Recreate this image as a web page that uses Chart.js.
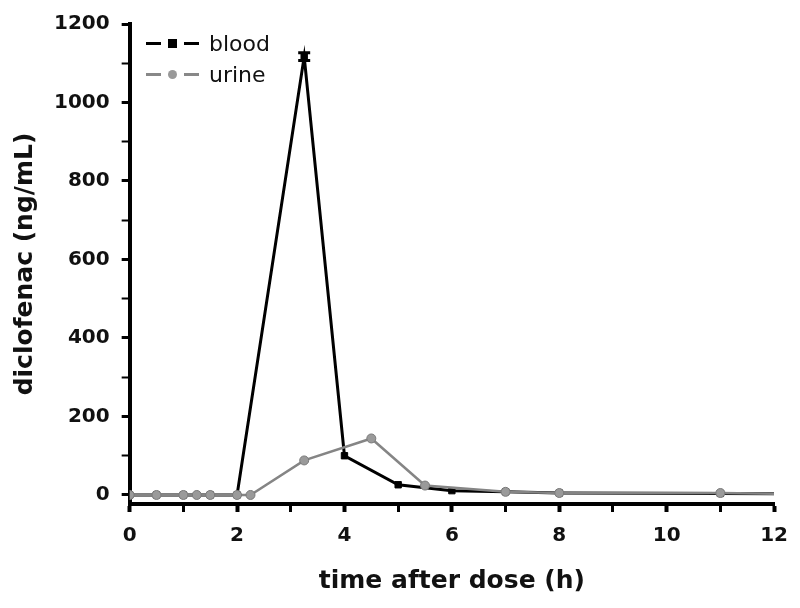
<!DOCTYPE html>
<html lang="en">
<head>
  <meta charset="UTF-8"/>
  <title>Diclofenac</title>
  <script src="https://cdn.jsdelivr.net/npm/chart.js"></script>
  <style>
    html, body { margin: 0; padding: 0; background: #fff; }
    .wrap { position: relative; width: 800px; height: 608px; }
    /* legend drawn in HTML, top-left inside the plot */
    .legend { position: absolute; left: 146px; top: 28px; font-family: "DejaVu Sans", sans-serif; font-size: 22px; line-height: 31px; color: #111; }
    .row { display: flex; align-items: center; height: 31px; }
    .seg { display: inline-block; width: 15px; height: 3px; }
    .mk { display: inline-block; width: 9px; height: 9px; margin: 0 7px; }
    .lbl { margin-left: 10px; }
  </style>
</head>
<body>
  <div class="wrap">
    <canvas id="chart" width="800" height="608"></canvas>
    <div class="legend">
      <div class="row"><span class="seg" style="background:#000"></span><span class="mk" style="background:#000"></span><span class="seg" style="background:#000"></span><span class="lbl">blood</span></div>
      <div class="row"><span class="seg" style="background:#888"></span><span class="mk" style="background:#999;border-radius:50%"></span><span class="seg" style="background:#888"></span><span class="lbl">urine</span></div>
    </div>
  </div>

  <script>
    // Data
    const bloodTime  = [0, 0.5, 1, 1.5, 2, 3.25, 4, 5, 6, 7, 8, 11, 12];
    const bloodConc  = [0, 0, 0, 0, 0, 1117, 100, 26, 11, 8, 5, 4, 3];
    const bloodErr   = [0, 0, 0, 0, 0, 10, 0, 0, 0, 0, 0, 0, 0];
    const urineTime  = [0, 0.5, 1, 1.25, 1.5, 2, 2.25, 3.25, 4.5, 5.5, 7, 8, 11, 12];
    const urineConc  = [0, 0, 0, 0, 0, 0, 0, 88, 144, 24, 8, 5, 5, 3];
    const xTicks = [0, 1, 2, 3, 4, 5, 6, 7, 8, 9, 10, 11, 12];
    const yTicks = [0, 100, 200, 300, 400, 500, 600, 700, 800, 900, 1000, 1100, 1200];

    const toPts = (xs, ys) => xs.map((x, i) => ({ x: x, y: ys[i] }));
    const hideEnd = ctx => (ctx.raw && ctx.raw.x === 12 ? 0 : 4.5);

    // error bar on blood series
    const errorBars = {
      id: 'errorBars',
      afterDatasetsDraw(chart) {
        const { ctx, scales: { x, y } } = chart;
        ctx.save();
        ctx.strokeStyle = '#000';
        ctx.lineWidth = 3;
        bloodTime.forEach((t, i) => {
          const e = bloodErr[i];
          if (!e) return;
          const px = x.getPixelForValue(t);
          const top = y.getPixelForValue(bloodConc[i] + e);
          const bot = y.getPixelForValue(bloodConc[i] - e);
          ctx.beginPath();
          ctx.moveTo(px, top); ctx.lineTo(px, bot);
          ctx.moveTo(px - 6, top); ctx.lineTo(px + 6, top);
          ctx.moveTo(px - 6, bot); ctx.lineTo(px + 6, bot);
          ctx.stroke();
        });
        ctx.restore();
      }
    };

    const tickFont = { family: '"DejaVu Sans", sans-serif', size: 20, weight: 'bold' };
    const titleFont = { family: '"DejaVu Sans", sans-serif', size: 25, weight: 'bold' };

    new Chart(document.getElementById('chart'), {
      type: 'line',
      data: {
        datasets: [
          {
            label: 'urine',
            data: toPts(urineTime, urineConc),
            borderColor: '#858585',
            backgroundColor: '#9a9a9a',
            pointBorderColor: '#7a7a7a',
            borderWidth: 2.5,
            pointStyle: 'circle',
            pointRadius: hideEnd,
            pointBorderWidth: 1,
            tension: 0
          },
          {
            label: 'blood',
            data: toPts(bloodTime, bloodConc),
            borderColor: '#000',
            backgroundColor: '#000',
            borderWidth: 3,
            pointStyle: 'rect',
            pointRadius: hideEnd,
            pointBorderWidth: 1,
            tension: 0
          }
        ]
      },
      options: {
        responsive: false,
        animation: false,
        layout: { padding: { top: 22, right: 23, left: 6, bottom: 8 } },
        plugins: { legend: { display: false }, tooltip: { enabled: false } },
        scales: {
          x: {
            type: 'linear',
            min: 0, max: 12,
            afterBuildTicks: s => { s.ticks = xTicks.map(v => ({ value: v })); },
            ticks: {
              color: '#111', font: tickFont, padding: 12, maxRotation: 0,
              callback: v => (v % 2 === 0 ? v : '')
            },
            grid: {
              drawOnChartArea: false, tickLength: 8, tickColor: '#000',
              tickWidth: c => (c.tick && c.tick.value % 2 === 0 ? 4 : 3)
            },
            border: { color: '#000', width: 4 },
            title: { display: true, text: 'time after dose (h)', color: '#111', font: titleFont, padding: { top: 6 } }
          },
          y: {
            min: -23, max: 1200,
            afterBuildTicks: s => { s.ticks = yTicks.map(v => ({ value: v })); },
            ticks: {
              color: '#111', font: tickFont, padding: 12,
              callback: v => (v % 200 === 0 ? v : '')
            },
            grid: {
              drawOnChartArea: false, tickLength: 8, tickColor: '#000',
              tickWidth: c => (c.tick && c.tick.value % 200 === 0 ? 3 : 2)
            },
            border: { color: '#000', width: 4 },
            title: { display: true, text: 'diclofenac (ng/mL)', color: '#111', font: titleFont, padding: { bottom: 2 } }
          }
        }
      },
      plugins: [errorBars]
    });
  </script>
</body>
</html>
